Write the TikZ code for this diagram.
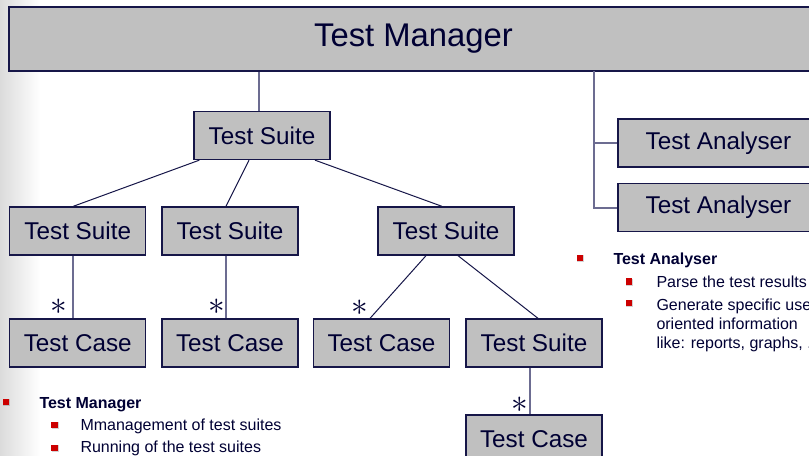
\documentclass[tikz,border=0pt]{standalone}
\usepackage{fontspec}
\setmainfont{Liberation Sans}
\usetikzlibrary{shadows}
\definecolor{boxgray}{RGB}{192,192,192}
\definecolor{navy}{RGB}{22,22,72}
\definecolor{inkblue}{RGB}{0,0,51}
\definecolor{linkgray}{RGB}{108,108,145}
\definecolor{bulletred}{RGB}{204,0,0}
\tikzset{every picture/.style={line width=0.75pt}}
\tikzset{
  classbox/.style={draw=navy, fill=boxgray, line width=1pt, text=inkblue, inner sep=0pt,
    minimum width=102pt, minimum height=36pt, font=\fontsize{18.2}{20}\selectfont},
  vlink/.style={draw=linkgray, line width=1.5},
  dlink/.style={draw=navy, line width=0.75},
  mult/.style={inner sep=0pt, text=inkblue, font=\fontsize{23}{23}\selectfont},
  bulletsq/.style={fill=bulletred, inner sep=0pt, minimum size=5.2pt,
    drop shadow={shadow xshift=0.6pt, shadow yshift=-0.6pt, opacity=0.35}},
  itemtext/.style={inner sep=0pt, text=inkblue, anchor=base west, font=\fontsize{12}{14.25}\selectfont},
}

\begin{document}
\begin{tikzpicture}[x=0.75pt,y=0.75pt,yscale=-1,xscale=1]
\useasboundingbox (0,0) rectangle (809,456);
\clip (0,0) rectangle (809,456);

%Background strip
\fill [left color=gray!28, right color=white] (0,0) rectangle (40,456);

%Boxes
\node [classbox, minimum width=606.75pt, minimum height=48pt, font=\fontsize{24.6}{28}\selectfont] (bar) at (413.5,39) {Test Manager};
\node [classbox] (root) at (262,135.5) {Test Suite};
\node [classbox, minimum width=150.75pt] (an1) at (718.5,143) {Test Analyser};
\node [classbox, minimum width=150.75pt] (an2) at (718.5,207.5) {Test Analyser};

\node [classbox] (ts1) at (77.75,231) {Test Suite};
\node [classbox] (ts2) at (230,231) {Test Suite};
\node [classbox] (ts3) at (446,231) {Test Suite};

\node [classbox] (tc1) at (77.75,343) {Test Case};
\node [classbox] (tc2) at (230,343) {Test Case};
\node [classbox] (tc3) at (381.5,343) {Test Case};
\node [classbox] (ts4) at (534,343) {Test Suite};
\node [classbox] (tc4) at (534,439) {Test Case};

%Straight Lines
\draw [vlink] ([xshift=-2.6pt]root.north) -- ([xshift=-2.6pt]root.north |- bar.south);
\coordinate (fork) at (594,71);
\draw [vlink] (fork) |- (an2.west);
\draw [vlink] (fork |- an1.west) -- (an1.west);

\draw [dlink] ([xshift=4.5pt]root.south west) -- ([xshift=-3.4pt]ts1.north);
\draw [dlink] ([xshift=-9.75pt]root.south) -- ([xshift=-3pt]ts2.north);
\draw [dlink] ([xshift=39.75pt]root.south) -- ([xshift=-3pt]ts3.north);

\draw [vlink] ([xshift=-3.4pt]ts1.south) -- ([xshift=-3.4pt]tc1.north);
\draw [vlink] ([xshift=-3pt]ts2.south) -- ([xshift=-3pt]tc2.north);
\draw [dlink] ([xshift=-15pt]ts3.south) -- ([xshift=-8.6pt]tc3.north);
\draw [dlink] ([xshift=9pt]ts3.south) -- ([xshift=3pt]ts4.north);
\draw [vlink] ([xshift=-3pt]ts4.south) -- ([xshift=-3pt]tc4.north);

%Multiplicities
\node [mult] (m1) at (59,307) {$\ast$};
\node [mult] (m2) at (217,307) {$\ast$};
\node [mult] (m3) at (360,308) {$\ast$};
\node [mult] (m4) at (520,405) {$\ast$};

%Bullet list: analyser
\node [bulletsq] (ba) at (580,258) {};
\node [itemtext, font=\fontsize{12}{14.25}\selectfont\bfseries] (ta) at (613,264) {Test Analyser};
\node [bulletsq] (ba1) at (629,281.5) {};
\node [itemtext] (ta1) at (656,287) {Parse the test results};
\node [bulletsq] (ba2) at (629,303) {};
\node [itemtext, anchor=north west, align=left] (ta2) at (656,298) {Generate specific user\\oriented information\\like: reports, graphs, ...};

%Bullet list: manager
\node [bulletsq] (bm) at (6,402) {};
\node [itemtext, font=\fontsize{12}{14.25}\selectfont\bfseries] (tm) at (39,408) {Test Manager};
\node [bulletsq] (bm1) at (54.5,425) {};
\node [itemtext] (tm1) at (80,430.5) {Mmanagement of test suites};
\node [bulletsq] (bm2) at (54.5,448) {};
\node [itemtext] (tm2) at (80,452.5) {Running of the test suites};

\end{tikzpicture}
\end{document}
